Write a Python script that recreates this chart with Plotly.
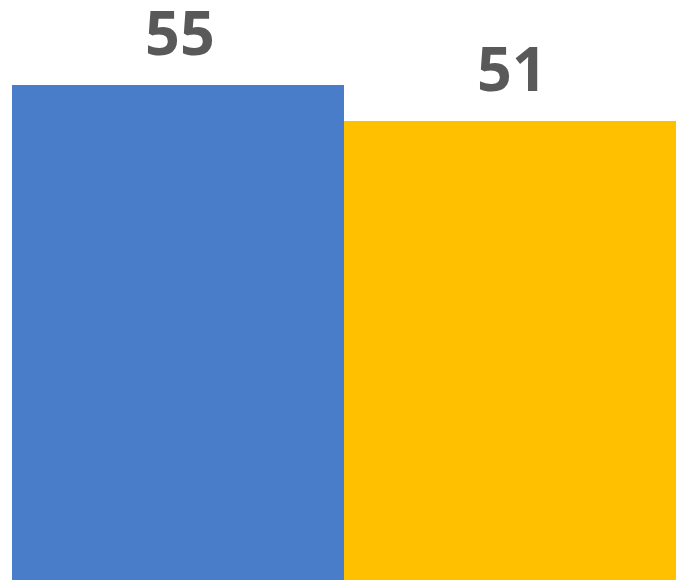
import plotly.graph_objects as go

categories = ["A", "B"]
values = [55, 51]
colors = ["#4A7DC9", "#FFC000"]

fig = go.Figure(go.Bar(
    x=categories,
    y=values,
    marker=dict(color=colors, line=dict(width=0)),
    showlegend=False,
))

# value labels above the bars
for cat, val in zip(categories, values):
    fig.add_annotation(
        x=cat, y=val, text=str(val),
        showarrow=False, yanchor="bottom", yshift=10, xshift=2,
        font=dict(family="Open Sans", size=61, color="#595959", weight="bold"),
    )

fig.update_layout(
    width=676,
    height=580,
    margin=dict(l=12, r=0, t=0, b=0, autoexpand=False),
    bargap=0,
    plot_bgcolor="white",
    paper_bgcolor="white",
    xaxis=dict(visible=False),
    yaxis=dict(visible=False, range=[0, 64.44]),
)

# drop the default page margin so the figure sits at the window corner
fig.write_html(
    "out.html",
    config={"displayModeBar": False},
    post_script="document.body.style.margin='0';",
)
